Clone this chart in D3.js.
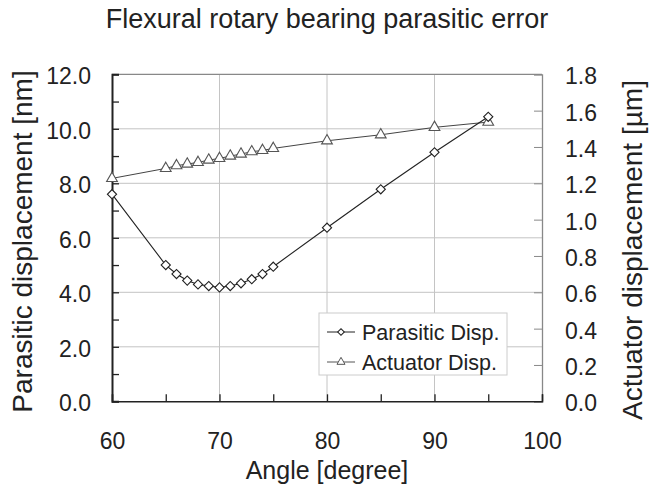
<!DOCTYPE html>
<html><head><meta charset="utf-8">
<script src="https://cdn.jsdelivr.net/npm/d3@7"></script>
<style>body{margin:0;background:#fff}svg{display:block}text{font-family:"Liberation Sans",Arial,sans-serif;fill:#222}</style>
</head><body>
<svg id="c" width="654" height="495"></svg>
<script>
const angles = [60,65,66,67,68,69,70,71,72,73,74,75,80,85,90,95];
const parasitic = [7.6,5.0,4.67,4.43,4.29,4.23,4.18,4.23,4.33,4.48,4.67,4.94,6.37,7.78,9.14,10.44];
const actuator = [1.227,1.282,1.297,1.306,1.315,1.328,1.337,1.350,1.361,1.374,1.381,1.392,1.434,1.467,1.508,1.537];
const xTicks = [60,70,80,90,100];
const leftTicks = [0,2,4,6,8,10,12];
const rightTicks = [0,0.2,0.4,0.6,0.8,1.0,1.2,1.4,1.6,1.8];
const seriesNames = ["Parasitic Disp.","Actuator Disp."];

const svg = d3.select("#c");
const L=112,R=542,T=74.3,B=401.3;
const x = d3.scaleLinear().domain([60,100]).range([L,R]);
const yL = d3.scaleLinear().domain([0,12]).range([B,T]);
const yR = d3.scaleLinear().domain([0,1.8]).range([B,T]);

// gridlines
const g = svg.append("g");
g.selectAll("line.hg").data(leftTicks.slice(1,-1)).join("line")
 .attr("x1",L).attr("x2",R).attr("y1",d=>yL(d)).attr("y2",d=>yL(d))
 .attr("stroke","#c4c4c4").attr("stroke-width",1);
g.selectAll("line.vg").data(xTicks.slice(1,-1)).join("line")
 .attr("y1",T).attr("y2",B).attr("x1",d=>x(d)).attr("x2",d=>x(d))
 .attr("stroke","#c4c4c4").attr("stroke-width",1);

// top border & right axis (gray)
svg.append("line").attr("x1",L).attr("x2",R).attr("y1",T).attr("y2",T).attr("stroke","#888").attr("stroke-width",1.3);
const rAx = d3.axisRight(yR).tickValues(rightTicks).tickSize(-8).tickFormat(d3.format(".1f")).tickPadding(23);
const rg = svg.append("g").attr("transform",`translate(${R},0)`).call(rAx);
rg.select(".domain").attr("stroke","#888").attr("stroke-width",1.3);
rg.selectAll(".tick line").attr("stroke","#888");
rg.selectAll("text").style("font-size","23px").attr("fill","#222").attr("dy","0.42em");

// left axis
const lAx = d3.axisLeft(yL).tickValues(d3.range(0,12.01,1)).tickSize(-7).tickFormat(d=>d%2===0?d3.format(".1f")(d):"").tickPadding(21);
const lg = svg.append("g").attr("transform",`translate(${L},0)`).call(lAx);
lg.select(".domain").attr("stroke","#222").attr("stroke-width",2);
lg.selectAll(".tick line").attr("stroke","#222").attr("stroke-width",1.3);
lg.selectAll("text").style("font-size","23px").attr("fill","#222").attr("dy","0.42em");

// bottom axis
const bAx = d3.axisBottom(x).tickValues(d3.range(60,100.1,5)).tickSize(-7).tickFormat(d=>d%10===0?d:"").tickPadding(31);
const bg = svg.append("g").attr("transform",`translate(0,${B})`).call(bAx);
bg.select(".domain").attr("stroke","#222").attr("stroke-width",1.5);
bg.selectAll(".tick line").attr("stroke","#222").attr("stroke-width",1.3);
bg.selectAll("text").style("font-size","23px").attr("fill","#222");

// series
const line1 = d3.line().x((d,i)=>x(angles[i])).y(d=>yL(d));
const line2 = d3.line().x((d,i)=>x(angles[i])).y(d=>yR(d));
svg.append("path").attr("d",line2(actuator)).attr("fill","none").attr("stroke","#444").attr("stroke-width",1);
svg.append("path").attr("d",line1(parasitic)).attr("fill","none").attr("stroke","#222").attr("stroke-width",1.1);
const tri = d3.symbol().type(d3.symbolTriangle).size(50);
svg.append("g").selectAll("path").data(actuator).join("path")
 .attr("d",tri).attr("transform",(d,i)=>`translate(${x(angles[i])},${yR(d)})`)
 .attr("fill","#fff").attr("stroke","#555").attr("stroke-width",1.1);
svg.append("g").selectAll("path").data(parasitic).join("path")
 .attr("d",d3.symbol().type(d3.symbolSquare).size(42)).attr("transform",(d,i)=>`translate(${x(angles[i])},${yL(d)}) rotate(45)`)
 .attr("fill","#fff").attr("stroke","#222").attr("stroke-width",1.1);

// legend
const lgG = svg.append("g");
lgG.append("rect").attr("x",319).attr("y",313).attr("width",188).attr("height",62).attr("fill","#fff").attr("stroke","#ccc");
const ly=[332,362];
ly.forEach((yy,i)=>{
  lgG.append("line").attr("x1",327).attr("x2",355).attr("y1",yy).attr("y2",yy).attr("stroke",i?"#555":"#222").attr("stroke-width",1);
  if(i===0) lgG.append("path").attr("d",d3.symbol().type(d3.symbolSquare).size(22)).attr("transform",`translate(341,${yy}) rotate(45)`).attr("fill","#fff").attr("stroke","#222");
  else lgG.append("path").attr("d",d3.symbol().type(d3.symbolTriangle).size(28)).attr("transform",`translate(341,${yy})`).attr("fill","#fff").attr("stroke","#555");
  lgG.append("text").attr("x",362).attr("y",yy).attr("dy","0.36em").style("font-size","21.5px").text(seriesNames[i]);
});

// titles
svg.append("text").attr("x",327).attr("y",28).attr("text-anchor","middle").style("font-size","27px").text("Flexural rotary bearing parasitic error");
svg.append("text").attr("x",327).attr("y",479).attr("text-anchor","middle").style("font-size","25px").text("Angle [degree]");
svg.append("text").attr("transform","translate(32,241.5) rotate(-90)").attr("text-anchor","middle").style("font-size","28px").text("Parasitic displacement [nm]");
svg.append("text").attr("transform","translate(642,250) rotate(-90)").attr("text-anchor","middle").style("font-size","28px").text("Actuator displacement [µm]");
</script>
</body></html>
